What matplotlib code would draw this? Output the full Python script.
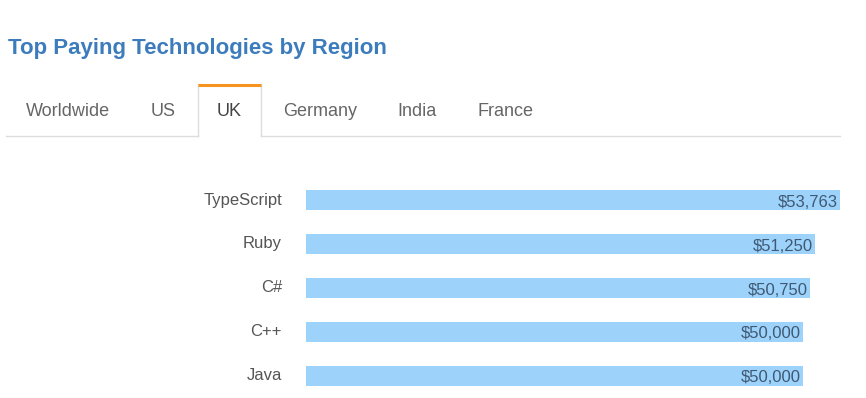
import matplotlib
matplotlib.use("Agg")
import matplotlib.pyplot as plt
from matplotlib.lines import Line2D

plt.rcParams["font.family"] = ["Liberation Sans", "DejaVu Sans"]

# data
techs = ["TypeScript", "Ruby", "C#", "C++", "Java"]
salaries = [53763, 51250, 50750, 50000, 50000]
tabs = ["Worldwide", "US", "UK", "Germany", "India", "France"]
active_tab = "UK"

W, H = 866, 398
fig = plt.figure(figsize=(W / 100, H / 100), dpi=100)


def fx(px):
    return px / W


def fy(py):
    return 1 - py / H


fig.text(fx(8), fy(48.5), "Top Paying Technologies by Region", fontsize=16,
         fontweight="bold", color="#3d7cbc", ha="left", va="center")

# tab strip
tab_cx = [68, 163, 229.5, 320, 417, 505]
for name, cx in zip(tabs, tab_cx):
    fig.text(fx(cx), fy(112), name, fontsize=13, ha="center", va="center",
             color="#444444" if name == active_tab else "#666666")

border = "#dddddd"
tl, tr, ttop, tbot = 198, 261, 84, 136
fig.add_artist(Line2D([fx(6), fx(tl)], [fy(tbot), fy(tbot)], color=border, lw=1))
fig.add_artist(Line2D([fx(tr), fx(840)], [fy(tbot), fy(tbot)], color=border, lw=1))
fig.add_artist(Line2D([fx(tl), fx(tl)], [fy(ttop), fy(tbot)], color=border, lw=1))
fig.add_artist(Line2D([fx(tr), fx(tr)], [fy(ttop), fy(tbot)], color=border, lw=1))
fig.add_artist(Line2D([fx(tl), fx(tr)], [fy(ttop + 1), fy(ttop + 1)],
                      color="#f7941d", lw=2.2, solid_capstyle="butt"))

# bars
x0, x1 = 306, 840
ytop, ybot = 178.5, 398
ax = fig.add_axes([fx(x0), fy(ybot), fx(x1 - x0), (ybot - ytop) / H])
pos = range(len(techs))
ax.barh(pos, salaries, height=0.455, color="#9dd3fb", edgecolor="none")
ax.set_xlim(0, max(salaries))
ax.set_ylim(len(techs) - 0.5, -0.5)
ax.axis("off")
for i, (t, v) in enumerate(zip(techs, salaries)):
    ax.text(v - max(salaries) * 0.004, i + 0.04, f"${v:,}", ha="right",
            va="center", fontsize=12, color="#3f5873")
    ax.text(-max(salaries) * 0.045, i - 0.01, t, ha="right", va="center",
            fontsize=12, color="#555555", clip_on=False)

fig.savefig("out.png", dpi=100, facecolor="white")
